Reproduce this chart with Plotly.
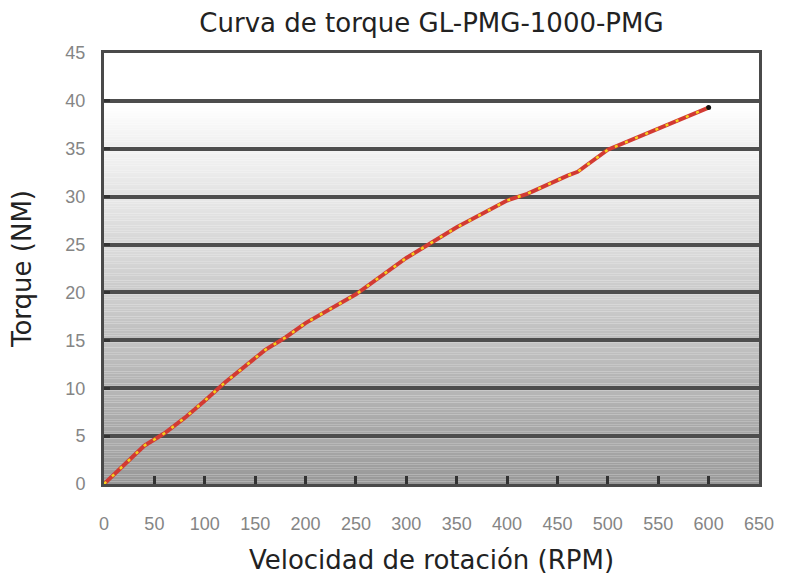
import plotly.graph_objects as go

# Data
rpm = [0, 40, 60, 80, 100, 120, 160, 180, 200, 250, 300, 350, 400, 420, 460, 470, 500, 550, 600]
torque = [0, 4.0, 5.3, 6.9, 8.7, 10.6, 14.0, 15.3, 16.8, 19.8, 23.6, 26.8, 29.6, 30.3, 32.2, 32.6, 34.9, 37.1, 39.3]

x_ticks = [0, 50, 100, 150, 200, 250, 300, 350, 400, 450, 500, 550, 600, 650]
y_ticks = [0, 5, 10, 15, 20, 25, 30, 35, 40, 45]

title_text = "Curva de torque GL-PMG-1000-PMG"
x_title = "Velocidad de rotación (RPM)"
y_title = "Torque (NM)"

fig = go.Figure()

# gradient background built from bands
shapes = []
step = 0.25
n = int(45 / step)
for k in range(n):
    y0 = k * step
    y1 = y0 + step
    ym = (y0 + y1) / 2
    if ym >= 40:
        g = 255
    else:
        base = 152 + (250 - 152) * ym / 40
        frac = (ym % 5) / 5
        g = min(255, base + 7 * frac)
    g = int(round(g))
    shapes.append(dict(type="rect", xref="paper", yref="y", x0=0, x1=1, y0=y0, y1=y1,
                       fillcolor=f"rgb({g},{g},{g})", line=dict(width=0), layer="below"))

fig.add_trace(go.Scatter(x=rpm, y=torque, mode="lines",
                         line=dict(color="#d23a33", width=4), showlegend=False,
                         hoverinfo="skip"))
fig.add_trace(go.Scatter(x=rpm, y=torque, mode="lines",
                         line=dict(color="#f5d31c", width=2.5, dash="3px,8px"), showlegend=False))
fig.add_trace(go.Scatter(x=[rpm[-1]], y=[torque[-1]], mode="markers",
                         marker=dict(color="#111111", size=5), showlegend=False))

fig.update_layout(
    width=789, height=580,
    margin=dict(l=104, r=30, t=53, b=96),
    paper_bgcolor="white",
    plot_bgcolor="white",
    shapes=shapes,
    title=dict(text=title_text, x=(104 + 759) / 2 / 789, xanchor="center",
               y=1 - 23 / 580, yanchor="middle", yref="container",
               font=dict(family="DejaVu Sans", size=26, color="#222222")),
    xaxis=dict(range=[0, 650], tickvals=x_ticks, ticktext=[str(v) for v in x_ticks],
               showgrid=False, zeroline=False, automargin=False,
               showline=True, linecolor="#4a4a4a", linewidth=3, mirror=True,
               ticks="inside", ticklen=8, tickwidth=3, tickcolor="#333333",
               ticklabelstandoff=21,
               tickfont=dict(family="Liberation Sans", size=18, color="#858585"),
               title=dict(text=x_title, standoff=19,
                          font=dict(family="DejaVu Sans", size=26, color="#222222"))),
    yaxis=dict(range=[0, 45], tickvals=y_ticks, ticktext=[str(v) for v in y_ticks],
               showgrid=True, gridcolor="#4d4d4d", gridwidth=4, zeroline=False,
               automargin=False,
               showline=True, linecolor="#4a4a4a", linewidth=3, mirror=True,
               ticks="inside", ticklen=6, tickwidth=3, tickcolor="#333333",
               ticklabelstandoff=12,
               tickfont=dict(family="Liberation Sans", size=18, color="#858585"),
               title=dict(text=y_title, standoff=27,
                          font=dict(family="DejaVu Sans", size=26, color="#222222"))),
)

fig.write_html("out.html", config={"displayModeBar": False},
               post_script="document.body.style.margin='0';")
